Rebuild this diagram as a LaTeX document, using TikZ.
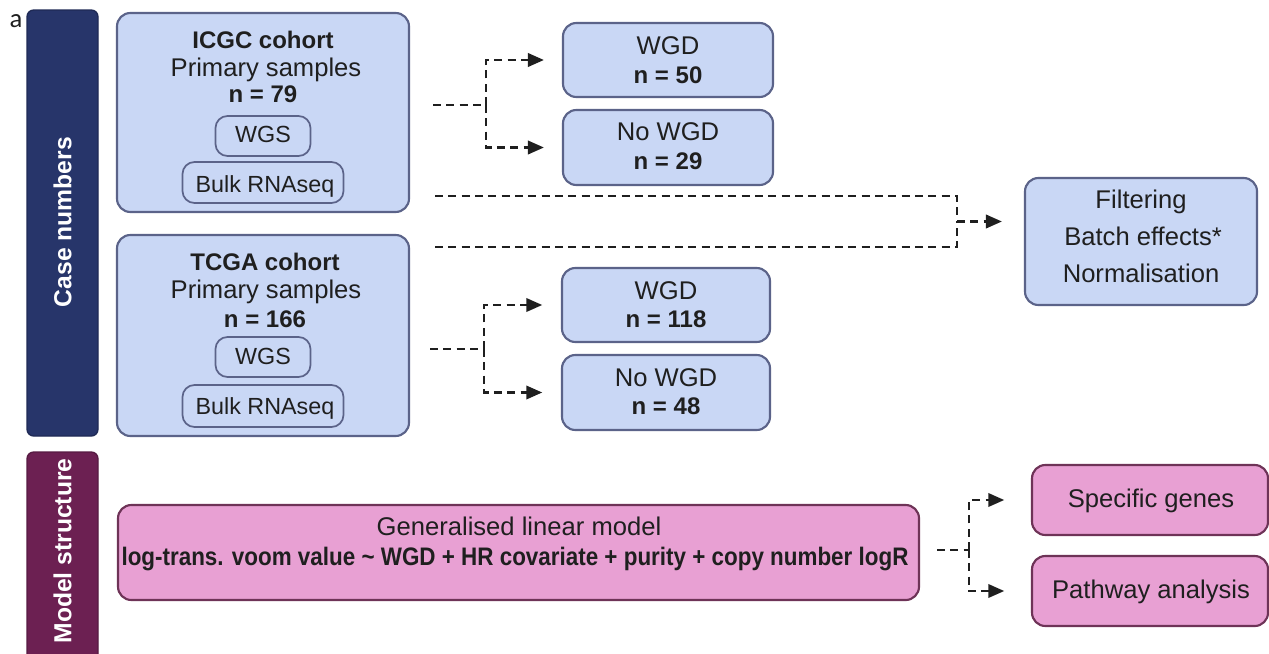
\documentclass[tikz,border=0pt]{standalone}
\usepackage{fontspec}
\setmainfont{Liberation Sans}
\newfontfamily\labelfont{Carlito}
\newfontfamily\condfont[FakeStretch=0.885]{Liberation Sans}
\usetikzlibrary{arrows.meta}
\definecolor{bluefill}{HTML}{C9D7F5}
\definecolor{blueline}{HTML}{5B6389}
\definecolor{pinkfill}{HTML}{E8A0D3}
\definecolor{pinkline}{HTML}{6E3357}
\definecolor{navybar}{HTML}{27356A}
\definecolor{plumbar}{HTML}{6C2052}
\definecolor{inkgrey}{HTML}{1F1F1F}
\begin{document}
\begin{tikzpicture}[x=0.75pt,y=-0.75pt,
  bluebox/.style={draw=blueline, fill=bluefill, line width=1.6pt, rounded corners=10pt},
  tagbox/.style={draw=blueline, line width=1.3pt, rounded corners=9pt},
  pinkbox/.style={draw=pinkline, fill=pinkfill, line width=1.6pt, rounded corners=10pt},
  sidebar/.style={draw=#1!80!black, fill=#1, line width=1pt, rounded corners=5pt, minimum width=53.25pt},
  txt/.style={anchor=base, inner sep=0pt, text=inkgrey, font=\fontsize{19.2}{19.2}\selectfont},
  tagtxt/.style={txt, font=\fontsize{17.5}{17.5}\selectfont},
  btxt/.style={txt, font=\fontsize{18}{18}\selectfont\bfseries},
  flow/.style={draw=inkgrey, line width=2pt, dash pattern=on 6pt off 4pt},
  tip/.style={flow, -{Triangle[length=12pt,width=10pt]}}]
\useasboundingbox (0,0) rectangle (1269,653);
\clip (0,0) rectangle (1269,653);
\node[anchor=base, inner sep=0pt, text=inkgrey, font=\labelfont\fontsize{20}{20}\selectfont] (lbla) at (16,27) {a};
\node[sidebar=navybar, minimum height=319.5pt] (casebar) at (62.5,223) {};
\node[rotate=90, text=white, font=\fontsize{18.5}{18.5}\selectfont\bfseries] (casetxt) at (62.5,222) {Case numbers};
\node[sidebar=plumbar, minimum height=162pt] (modelbar) at (62.5,560) {};
\node[rotate=90, text=white, font=\fontsize{18.5}{18.5}\selectfont\bfseries] (modeltxt) at (62.5,551) {Model structure};
\node[bluebox, minimum width=219pt, minimum height=149.25pt] (icgc) at (263,112.5) {};
\node[btxt] (icgcname) at (263,48) {ICGC cohort};
\node[txt] (icgcprim) at (266,76) {Primary samples};
\node[btxt] (icgcn) at (263,102) {n = 79};
\node[tagbox, minimum width=71.25pt, minimum height=30pt] (icgcwgs) at (263,136) {};
\node[tagtxt] (icgcwgstxt) at (263,142) {WGS};
\node[tagbox, minimum width=120.75pt, minimum height=30.75pt] (icgcbulk) at (263,182.5) {};
\node[tagtxt] (icgcbulktxt) at (265,192) {Bulk RNAseq};
\node[bluebox, minimum width=219pt, minimum height=150.75pt] (tcga) at (263,335.5) {};
\node[btxt] (tcganame) at (265,270) {TCGA cohort};
\node[txt] (tcgaprim) at (266,298) {Primary samples};
\node[btxt] (tcgan) at (265,327) {n = 166};
\node[tagbox, minimum width=71.25pt, minimum height=30pt] (tcgawgs) at (263,357) {};
\node[tagtxt] (tcgawgstxt) at (263,364) {WGS};
\node[tagbox, minimum width=120.75pt, minimum height=31.5pt] (tcgabulk) at (263,406) {};
\node[tagtxt] (tcgabulktxt) at (265,414) {Bulk RNAseq};
\node[bluebox, minimum width=157.5pt, minimum height=55.5pt] (icgcwgd) at (668,60) {};
\node[txt] (icgcwgdtxt) at (668,54) {WGD};
\node[btxt] (icgcwgdn) at (668,83) {n = 50};
\node[bluebox, minimum width=157.5pt, minimum height=56.25pt] (icgcno) at (668,147.5) {};
\node[txt] (icgcnotxt) at (668,140) {No WGD};
\node[btxt] (icgcnon) at (668,169) {n = 29};
\node[bluebox, minimum width=156pt, minimum height=55.5pt] (tcgawgd) at (666,305) {};
\node[txt] (tcgawgdtxt) at (666,299) {WGD};
\node[btxt] (tcgawgdn) at (666,327) {n = 118};
\node[bluebox, minimum width=156pt, minimum height=56.25pt] (tcgano) at (666,392.5) {};
\node[txt] (tcganotxt) at (666,386) {No WGD};
\node[btxt] (tcganon) at (666,414) {n = 48};
\node[bluebox, minimum width=174pt, minimum height=95.25pt] (filt) at (1141,241.5) {};
\node[txt] (filt1) at (1141,208) {Filtering};
\node[txt] (filt2) at (1143,245) {Batch effects*};
\node[txt] (filt3) at (1141,282) {Normalisation};
\node[pinkbox, minimum width=600.75pt, minimum height=71.25pt] (glm) at (518.5,552.5) {};
\node[txt] (glmtitle) at (519,535) {Generalised linear model};
\node[btxt, font=\condfont\fontsize{19}{19}\selectfont\bfseries] (glmformula) at (515,565) {log-trans. voom value \char`\~{} WGD + HR covariate + purity + copy number logR};
\node[pinkbox, minimum width=177pt, minimum height=52.5pt] (genes) at (1150,500) {};
\node[txt] (genestxt) at (1151,507) {Specific genes};
\node[pinkbox, minimum width=177pt, minimum height=52.5pt] (pathway) at (1150,591) {};
\node[txt] (pathwaytxt) at (1151,598) {Pathway analysis};
\coordinate (icgcout) at (433,105);
\coordinate (icgcfork) at (486,105);
\draw[flow] (icgcout) -- (icgcfork);
\draw[tip, shorten >=13.5pt] (icgcfork) |- (icgcwgd.west);
\draw[tip, shorten >=13.5pt] (icgcfork) |- (icgcno.west);
\coordinate (tcgaout) at (430,349);
\coordinate (tcgafork) at (484,349);
\draw[flow] (tcgaout) -- (tcgafork);
\draw[tip, shorten >=14pt] (tcgafork) |- (tcgawgd.west);
\draw[tip, shorten >=14pt] (tcgafork) |- (tcgano.west);
\coordinate (upperout) at (435,196);
\coordinate (lowerout) at (435,247);
\coordinate (mergefork) at (957,221.5);
\draw[flow] (upperout) -| (mergefork);
\draw[flow] (lowerout) -| (mergefork);
\draw[tip, shorten >=16.5pt] (mergefork) -- (mergefork -| filt.west);
\coordinate (glmout) at (937,550);
\coordinate (glmfork) at (969,550);
\draw[flow] (glmout) -- (glmfork);
\draw[tip, shorten >=20pt] (glmfork) |- (genes.west);
\draw[tip, shorten >=20pt] (glmfork) |- (pathway.west);
\end{tikzpicture}
\end{document}
